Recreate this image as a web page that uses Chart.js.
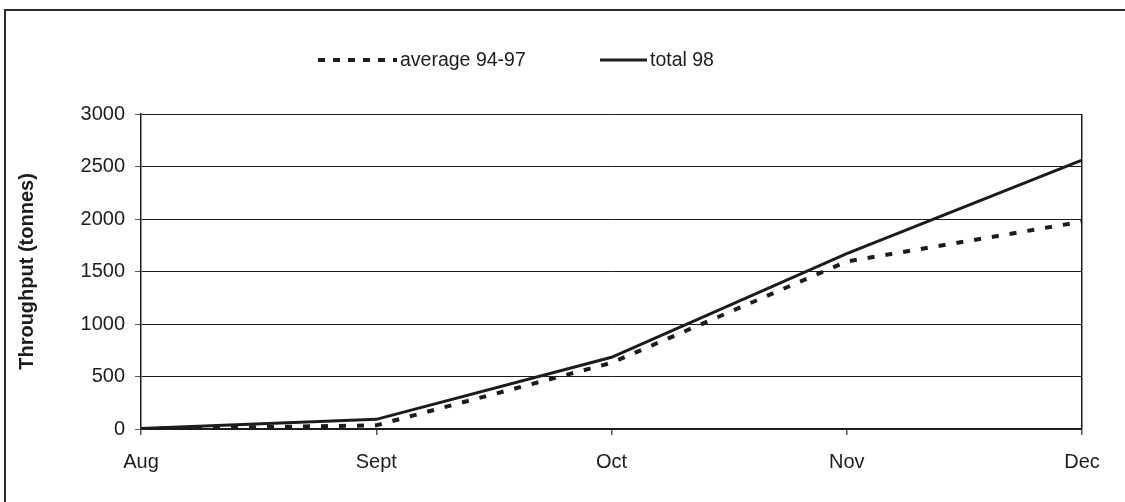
<!DOCTYPE html>
<html>
<head>
<meta charset="utf-8">
<script src="https://cdn.jsdelivr.net/npm/chart.js@4.4.1/dist/chart.umd.min.js"></script>
<style>
    html, body { margin: 0; padding: 0; background: #fff; }
    #wrap { position: relative; width: 1125px; height: 502px; overflow: hidden; }
    #frame {
        position: absolute; left: 4px; top: 9px; width: 1200px; height: 600px;
        border-top: 2px solid #2a2a2a; border-left: 2px solid #2a2a2a;
        pointer-events: none;
    }
    canvas { position: absolute; left: 0; top: 0; }
</style>
</head>
<body>
<div id="wrap">
    <canvas id="chart" width="1125" height="502"></canvas>
    <div id="frame"></div>
</div>
<script>
    // ============================================
    // Data
    // ============================================

    const months = ['Aug', 'Sept', 'Oct', 'Nov', 'Dec'];
    const average9497 = [0, 35, 630, 1595, 1975];
    const total98 = [5, 92, 683, 1670, 2560];
    const yTicks = [0, 500, 1000, 1500, 2000, 2500, 3000];

    const INK = '#1c1c1c';
    const FONT = "'Liberation Sans', Arial, sans-serif";

    // Legend drawn by hand: sample length and start x for each entry
    const legendLayout = [
        { x: 318, width: 79, dash: [7, 8] },
        { x: 600, width: 47, dash: [] }
    ];

    const lineLegend = {
        id: 'lineLegend',
        afterDraw(chart) {
            const ctx = chart.ctx;
            const y = 60;
            ctx.save();
            chart.data.datasets.forEach((ds, i) => {
                const l = legendLayout[i];
                ctx.beginPath();
                ctx.setLineDash(l.dash);
                ctx.lineWidth = ds.borderWidth;
                ctx.strokeStyle = ds.borderColor;
                ctx.moveTo(l.x, y);
                ctx.lineTo(l.x + l.width, y);
                ctx.stroke();
                ctx.setLineDash([]);
                ctx.fillStyle = INK;
                ctx.font = '19.5px ' + FONT;
                ctx.textBaseline = 'middle';
                ctx.textAlign = 'left';
                ctx.fillText(ds.label, l.x + l.width + 3, y + 1);
            });
            ctx.restore();
        }
    };

    new Chart(document.getElementById('chart'), {
        type: 'line',
        data: {
            labels: months,
            datasets: [{
                label: 'average 94-97',
                data: average9497,
                borderColor: INK,
                borderWidth: 4,
                borderDash: [7, 11],
                pointRadius: 0,
                tension: 0,
                fill: false
            }, {
                label: 'total 98',
                data: total98,
                borderColor: INK,
                borderWidth: 3,
                pointRadius: 0,
                tension: 0,
                fill: false
            }]
        },
        options: {
            responsive: false,
            animation: false,
            devicePixelRatio: 1,
            layout: { padding: { left: 15, right: 43, top: 114, bottom: 0 } },
            plugins: {
                legend: { display: false },
                tooltip: { enabled: false }
            },
            scales: {
                x: {
                    offset: false,
                    afterFit: s => { s.height = 73; },
                    border: { display: true, color: INK, width: 1.5 },
                    grid: {
                        drawOnChartArea: true,
                        color: c => (c.index === months.length - 1 ? INK : 'rgba(0,0,0,0)'),
                        lineWidth: 1.5,
                        tickColor: '#555',
                        tickLength: 6
                    },
                    ticks: {
                        color: INK,
                        padding: 15,
                        maxRotation: 0,
                        font: { family: FONT, size: 20 }
                    }
                },
                y: {
                    min: 0,
                    max: 3000,
                    afterFit: s => { s.width = 126; },
                    afterBuildTicks: s => { s.ticks = yTicks.map(v => ({ value: v })); },
                    border: { display: true, color: INK, width: 1.5 },
                    grid: {
                        color: INK,
                        lineWidth: 1,
                        tickColor: '#555',
                        tickLength: 6
                    },
                    ticks: {
                        color: INK,
                        padding: 10,
                        font: { family: FONT, size: 20 },
                        callback: v => String(v)
                    },
                    title: {
                        display: true,
                        text: 'Throughput (tonnes)',
                        color: INK,
                        padding: 0,
                        font: { family: FONT, size: 20, weight: 'bold' }
                    }
                }
            }
        },
        plugins: [lineLegend]
    });
</script>
</body>
</html>
